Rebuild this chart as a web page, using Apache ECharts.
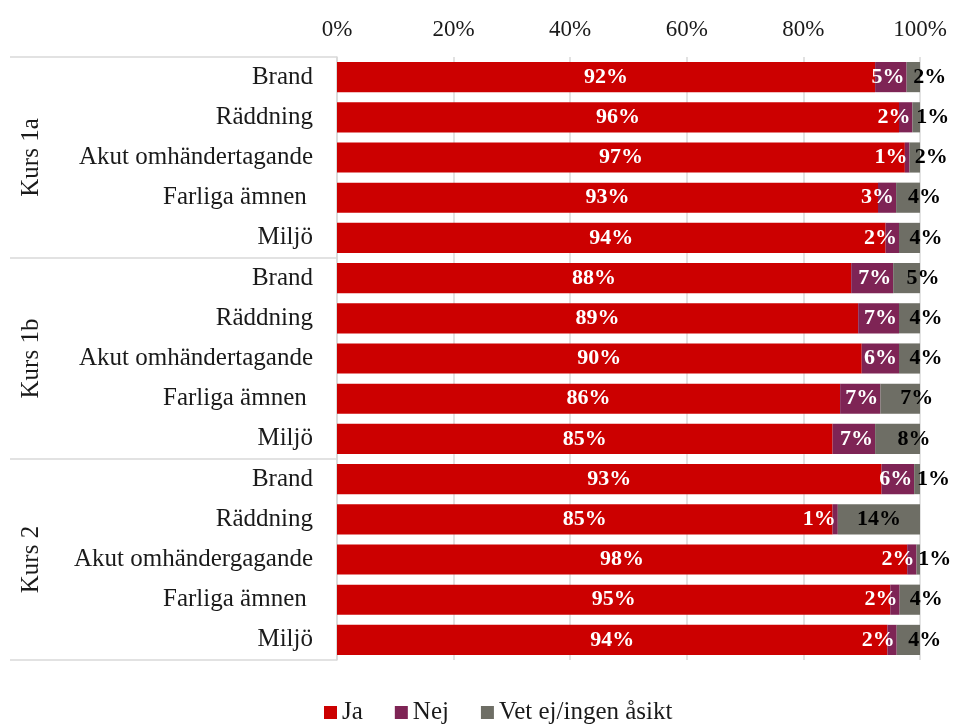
<!DOCTYPE html>
<html>
<head>
<meta charset="utf-8">
<script src="https://cdn.jsdelivr.net/npm/echarts@6.0.0/dist/echarts.min.js"></script>
<style>
  html, body { margin: 0; padding: 0; background: #fff; }
  #chart { width: 960px; height: 725px; }
</style>
</head>
<body>
<div id="chart"></div>
<script>
// topics per course, top to bottom
const categories = [
  "Brand", "Räddning", "Akut omhändertagande", "Farliga ämnen ", "Miljö",
  "Brand", "Räddning", "Akut omhändertagande", "Farliga ämnen ", "Miljö",
  "Brand", "Räddning", "Akut omhändergagande", "Farliga ämnen ", "Miljö",
];
const groups = ["Kurs 1a", "Kurs 1b", "Kurs 2"];
const seriesNames = ["Ja", "Nej", "Vet ej/ingen åsikt"];

// shares in percent (labels are rounded)
const ja = [92.3, 96.4, 97.4, 92.8, 94.1, 88.2, 89.4, 90.0, 86.3, 85.0, 93.4, 85.0, 97.8, 94.9, 94.4];
const nej = [5.4, 2.3, 0.8, 3.1, 2.3, 7.2, 7.0, 6.4, 6.9, 7.3, 5.6, 0.9, 1.6, 1.6, 1.6];
const vet = [2.3, 1.3, 1.8, 4.1, 3.6, 4.6, 3.6, 3.6, 6.8, 7.7, 1.0, 14.1, 0.6, 3.5, 4.0];

const xTicks = [0, 20, 40, 60, 80, 100];

const colors = ["#cc0000", "#7e2455", "#6e6e65"];
const fontFamily = "'Liberation Serif', 'DejaVu Serif', serif";
const gridColor = "#d9d9d9";

const chart = echarts.init(document.getElementById("chart"));

const pct = (p) => Math.round(p.value) + "%";

const labelBase = {
  show: true,
  fontFamily: fontFamily,
  fontWeight: "bold",
  fontSize: 22,
  formatter: pct,
};

const option = {
  backgroundColor: "#fff",
  animation: false,
  textStyle: { fontFamily: fontFamily },
  grid: { left: 337, right: 40, top: 57, bottom: 65 },
  legend: {
    top: 695,
    left: 319,
    icon: "rect",
    itemWidth: 13,
    itemHeight: 13,
    itemGap: 32,
    textStyle: { fontFamily: fontFamily, fontSize: 25, color: "#1a1a1a" },
    data: seriesNames,
  },
  xAxis: {
    type: "value",
    position: "top",
    min: xTicks[0],
    max: xTicks[xTicks.length - 1],
    interval: 20,
    axisLine: { show: false },
    axisTick: { show: false },
    axisLabel: {
      formatter: "{value}%",
      color: "#1a1a1a",
      fontSize: 23,
      margin: 16,
    },
    splitLine: { lineStyle: { color: gridColor, width: 1.5 } },
  },
  yAxis: [
    {
      type: "category",
      inverse: true,
      data: categories,
      axisLine: { lineStyle: { color: gridColor, width: 1.5 } },
      axisTick: { show: false },
      axisLabel: { color: "#1a1a1a", fontSize: 25, margin: 24 },
    },
    {
      // course groups with separator lines
      type: "category",
      inverse: true,
      position: "left",
      data: groups,
      axisLine: { show: false },
      axisTick: {
        show: true,
        interval: 0,
        length: 327,
        lineStyle: { color: gridColor, width: 1.5 },
      },
      axisLabel: {
        color: "#1a1a1a",
        fontSize: 25,
        rotate: 90,
        margin: 293,
      },
      splitLine: { show: false },
    },
  ],
  series: [
    {
      name: seriesNames[0],
      type: "bar",
      stack: "total",
      barCategoryGap: "25%",
      itemStyle: { color: colors[0] },
      label: { ...labelBase, position: "inside", color: "#fff" },
      data: ja,
    },
    {
      name: seriesNames[1],
      type: "bar",
      stack: "total",
      itemStyle: { color: colors[1] },
      label: { ...labelBase, position: "insideRight", distance: 2, color: "#fff" },
      data: nej,
    },
    {
      name: seriesNames[2],
      type: "bar",
      stack: "total",
      itemStyle: { color: colors[2] },
      // small segments: label starts at the segment middle, wide ones centred
      data: vet.map((v) => ({
        value: v,
        label: { align: v > 10 ? "center" : "left" },
      })),
      label: { ...labelBase, position: "inside", color: "#000" },
    },
  ],
};

chart.setOption(option);
</script>
</body>
</html>
